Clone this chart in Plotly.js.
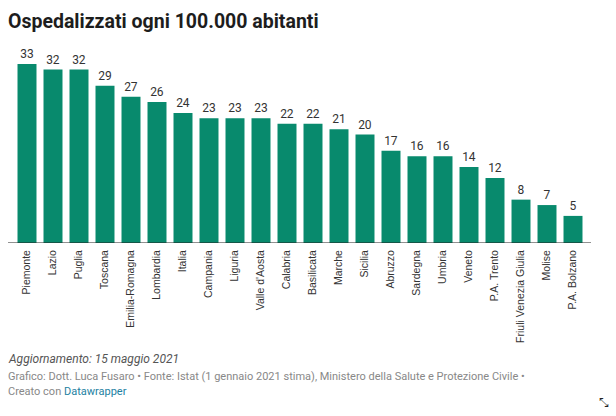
<!DOCTYPE html>
<html><head><meta charset="utf-8">
<script src="https://cdn.plot.ly/plotly-3.0.1.min.js"></script>
<style>html,body{margin:0;padding:0;background:#fff;}#chart{width:616px;height:416px;}</style>
</head><body><div id="chart"></div>
<script>
const regions = ["Piemonte","Lazio","Puglia","Toscana","Emilia-Romagna","Lombardia","Italia","Campania","Liguria","Valle d'Aosta","Calabria","Basilicata","Marche","Sicilia","Abruzzo","Sardegna","Umbria","Veneto","P.A. Trento","Friuli Venezia Giulia","Molise","P.A. Bolzano"];
const hospitalized = [33,32,32,29,27,26,24,23,23,23,22,22,21,20,17,16,16,14,12,8,7,5];

const L = 14, R = 30, W = 616, PW = W - L - R;
const trace = {
  type: 'bar', x: regions, y: hospitalized,
  marker: {color: '#088a6d'},
  text: hospitalized.map(String), textposition: 'outside', cliponaxis: false,
  textfont: {family: 'Roboto, sans-serif', size: 12, color: '#333'},
  hoverinfo: 'none'
};
const layout = {
  width: 616, height: 416,
  margin: {l: L, r: R, t: 60, b: 173, pad: 0},
  paper_bgcolor: '#fff', plot_bgcolor: '#fff',
  bargap: 0.27, showlegend: false,
  xaxis: {type: 'category', tickangle: -90, showgrid: false, showline: false, ticks: '', zeroline: false,
          ticklabelstandoff: 4,
          tickfont: {family: 'Liberation Sans, Arial, sans-serif', size: 10.5, color: '#333'}, ticklen: 0, automargin: false},
  yaxis: {range: [0, 33.76], visible: false, fixedrange: true},
  shapes: [{type: 'line', xref: 'paper', yref: 'y', x0: (8 - L) / PW, x1: (591 - L) / PW, y0: 0, y1: 0,
            line: {color: '#222', width: 1}}],
  annotations: [
    {xref: 'paper', yref: 'paper', x: (6 - L) / PW, y: 1, xanchor: 'left', yanchor: 'bottom', showarrow: false,
     text: '<b>Ospedalizzati ogni 100.000 abitanti</b>', font: {family: 'Roboto, sans-serif', size: 19.5, color: '#1d1d1d'},
     yshift: 25},
    {xref: 'paper', yref: 'paper', x: (6 - L) / PW, y: 0, xanchor: 'left', yanchor: 'middle', showarrow: false,
     text: '<i>Aggiornamento: 15 maggio 2021</i>', font: {family: 'Roboto, sans-serif', size: 12, color: '#555'}, yshift: -116},
    {xref: 'paper', yref: 'paper', x: (6 - L) / PW, y: 0, xanchor: 'left', yanchor: 'middle', showarrow: false,
     text: 'Grafico: Dott. Luca Fusaro • Fonte: Istat (1 gennaio 2021 stima), Ministero della Salute e Protezione Civile •',
     font: {family: 'Roboto, sans-serif', size: 11, color: '#888'}, yshift: -133},
    {xref: 'paper', yref: 'paper', x: (6 - L) / PW, y: 0, xanchor: 'left', yanchor: 'middle', showarrow: false,
     text: 'Creato con <span style="color:#1d81a2">Datawrapper</span>',
     font: {family: 'Roboto, sans-serif', size: 11, color: '#888'}, yshift: -148},
    {xref: 'paper', yref: 'paper', x: (604 - L) / PW, y: 0, xanchor: 'center', yanchor: 'middle', showarrow: false,
     text: '⤡', font: {family: 'DejaVu Sans, sans-serif', size: 12, color: '#222'}, yshift: -160}
  ]
};
Plotly.newPlot('chart', [trace], layout, {displayModeBar: false, staticPlot: true});
</script></body></html>
